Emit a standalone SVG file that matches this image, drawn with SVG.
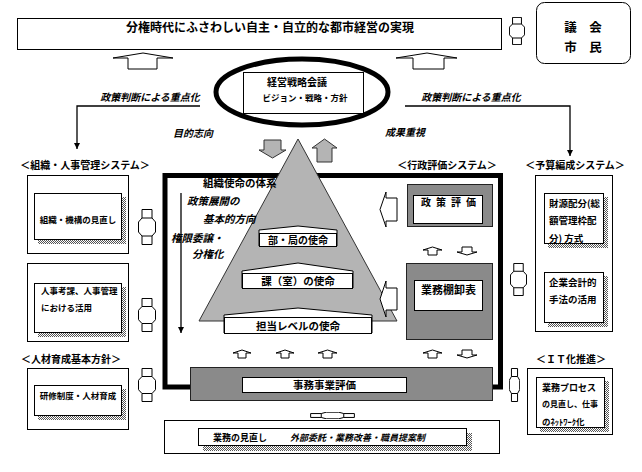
<svg xmlns="http://www.w3.org/2000/svg" width="642" height="472" viewBox="0 0 642 472">
<style>
text{font-family:"Noto Sans CJK JP","Noto Sans CJK SC",sans-serif;fill:#000;font-weight:bold}
.i{font-style:italic}
.m{text-anchor:middle}
.box{fill:#fff;stroke:#000;stroke-width:1}
.gray{fill:#8a8a8a;stroke:#222;stroke-width:1}
.sh{fill:url(#dots)}
.ar{fill:#fff;stroke:#000;stroke-width:1}
.ga{fill:#b4b4b4;stroke:#333;stroke-width:1}
.ln{stroke:#000;stroke-width:1.3;fill:none}
</style>
<defs>
<pattern id="dots" width="2" height="2" patternUnits="userSpaceOnUse"><rect width="2" height="2" fill="#fff"/><rect width="1" height="1" fill="#555"/><rect x="1" y="1" width="1" height="1" fill="#555"/></pattern>
<marker id="ah" viewBox="0 0 10 10" refX="10" refY="5" markerWidth="6" markerHeight="7" markerUnits="userSpaceOnUse" orient="auto"><path d="M0,0 L10,5 L0,10 Z" fill="#000"/></marker>
<symbol id="br" viewBox="0 0 18 36" preserveAspectRatio="none">
<path d="M4,0.5 H14 V9 L17.5,13 V23 L14,27 V35.5 H4 V27 L0.5,23 V13 L4,9 Z" fill="#fff" stroke="#000" stroke-width="1" vector-effect="non-scaling-stroke"/>
<path d="M4,9 H14 M4,27 H14" fill="none" stroke="#000" stroke-width="1" vector-effect="non-scaling-stroke"/>
</symbol>
</defs>
<rect width="642" height="472" fill="#fff"/>

<g id="banner">
<rect class="box" x="17.5" y="18.5" width="484" height="31"/>
<text class="m" x="270" y="32" font-size="12">分権時代にふさわしい自主・自立的な都市経営の実現</text>
</g>

<g id="council">
<rect class="box" x="536.5" y="2.5" width="94" height="61" rx="8"/>
<text class="m" x="583" y="32" font-size="12.5">議　会</text>
<text class="m" x="583" y="52" font-size="12.5">市　民</text>
</g>

<g id="strategy">
<ellipse cx="302" cy="92" rx="86" ry="33" fill="#fff" stroke="#000" stroke-width="5"/>
<rect class="box" x="243.5" y="72.5" width="120" height="41"/>
<text class="m" x="297" y="86" font-size="10">経営戦略会議</text>
<text class="m" x="305" y="101" font-size="8.5">ビジョン・戦略・方針</text>
</g>

<g id="labels">
<text class="i m" x="150" y="101" font-size="10" font-weight="normal">政策判断による重点化</text>
<text class="i m" x="471" y="101" font-size="10" font-weight="normal">政策判断による重点化</text>
<text class="i m" x="193" y="137" font-size="10">目的志向</text>
<text class="i m" x="405" y="136" font-size="10">成果重視</text>
</g>

<g id="frame">
<rect x="165" y="175.5" width="335.5" height="211.5" fill="none" stroke="#000" stroke-width="5"/>
</g>

<g id="pyramid">
<polygon class="ga" points="298,139 397,321 199,321"/>
<polygon class="box" points="259,246 259,230 298,226 337,230 337,246"/>
<rect class="box" x="259.5" y="233.5" width="77" height="13"/>
<text class="m" x="298" y="244" font-size="10">部・局の使命</text>
<polygon class="box" points="242,288 242,271 298,263 353,271 353,288"/>
<rect class="box" x="242.5" y="273.5" width="110" height="15"/>
<text class="m" x="298" y="285" font-size="10.5">課（室）の使命</text>
<polygon class="box" points="224,333 224,315 298,308 372,315 372,333"/>
<rect class="box" x="224.5" y="317.5" width="147" height="16"/>
<text class="m" x="298" y="329.5" font-size="10.5">担当レベルの使命</text>
</g>

<g id="mission-text">
<text x="203" y="187" font-size="10.5">組織使命の体系</text>
<text class="i" x="187" y="205" font-size="10.5" font-weight="normal">政策展開の</text>
<text class="i" x="203" y="223" font-size="10.5" font-weight="normal">基本的方向</text>
<text class="i" x="171" y="242" font-size="10.5" font-weight="normal">権限委譲・</text>
<text class="i" x="192" y="258" font-size="10.5" font-weight="normal">分権化</text>
</g>

<g id="policy-eval">
<rect class="gray" x="407.5" y="184.5" width="85" height="42"/>
<rect class="box" x="413.5" y="195.5" width="69" height="28"/>
<text class="m" x="451" y="206" font-size="10" letter-spacing="5">政策評価</text>
</g>

<g id="inventory">
<rect class="gray" x="406.5" y="263.5" width="86" height="76"/>
<rect class="box" x="414.5" y="280.5" width="68" height="30"/>
<text class="m" x="448.5" y="293.5" font-size="11">業務棚卸表</text>
</g>

<g id="jimu">
<rect class="gray" x="190.5" y="367.5" width="302" height="33"/>
<rect class="box" x="242.5" y="377.5" width="164" height="15"/>
<text class="m" x="324.5" y="389" font-size="10.5">事務事業評価</text>
</g>

<g id="review">
<rect class="box" x="164.5" y="420.5" width="335" height="33"/>
<rect class="sh" x="203" y="433" width="269" height="18"/>
<rect class="box" x="198.5" y="428.5" width="268" height="17"/>
<text x="213" y="441" font-size="9">業務の見直し</text>
<text class="i" x="290" y="441" font-size="9">外部委託・業務改善・職員提案制</text>
</g>

<g id="org-system">
<text class="m" x="85" y="168.5" font-size="10">＜組織・人事管理システム＞</text>
<rect class="box" x="27.5" y="175.5" width="101" height="78"/>
<rect class="sh" x="38" y="197" width="88" height="47"/>
<rect class="box" x="34.5" y="193.5" width="87" height="46"/>
<text class="m" x="78" y="223" font-size="8.5">組織・機構の見直し</text>
<rect class="box" x="27.5" y="263.5" width="101" height="78"/>
<rect class="sh" x="38" y="287" width="88" height="50"/>
<rect class="box" x="34.5" y="283.5" width="87" height="49"/>
<text x="41" y="294" font-size="8.5">人事考課、人事管理</text>
<text x="41" y="311" font-size="8.5">における活用</text>
</g>

<g id="hr-policy">
<text class="m" x="71" y="362.5" font-size="10">＜人材育成基本方針＞</text>
<rect class="box" x="27.5" y="368.5" width="101" height="61"/>
<rect class="sh" x="38" y="389" width="88" height="31"/>
<rect class="box" x="34.5" y="385.5" width="87" height="30"/>
<text class="m" x="78" y="398.5" font-size="8.5">研修制度・人材育成</text>
</g>

<g id="budget-system">
<text class="m" x="447" y="168.5" font-size="10">＜行政評価システム＞</text>
<text class="m" x="575" y="168.5" font-size="10">＜予算編成システム＞</text>
<rect class="box" x="535.5" y="175.5" width="77" height="156"/>
<rect class="sh" x="548" y="197" width="60" height="51"/>
<rect class="box" x="544.5" y="193.5" width="59" height="50"/>
<text x="549" y="207" font-size="9.5">財源配分(総</text>
<text x="549" y="224" font-size="9.5">額管理枠配</text>
<text x="549" y="241.5" font-size="9.5">分) 方式</text>
<rect class="sh" x="548" y="276" width="60" height="51"/>
<rect class="box" x="544.5" y="272.5" width="59" height="50"/>
<text x="549" y="286" font-size="9.5">企業会計的</text>
<text x="549" y="303" font-size="9.5">手法の活用</text>
</g>

<g id="it-system">
<text class="m" x="571" y="362.5" font-size="10">＜ＩＴ化推進＞</text>
<rect class="box" x="527.5" y="368.5" width="85" height="66"/>
<rect class="sh" x="540" y="381" width="69" height="51"/>
<rect class="box" x="536.5" y="377.5" width="68" height="50"/>
<text x="542" y="391" font-size="9">業務プロセス</text>
<text x="542" y="407" font-size="8">の見直し、仕事</text>
<text x="542" y="425" font-size="8.5">のﾈｯﾄﾜｰｸ化</text>
</g>

<g id="connectors">
<path class="ln" d="M200,106 H77 V149" marker-end="url(#ah)"/>
<path class="ln" d="M405,106 H570 V156" marker-end="url(#ah)"/>
<path class="ln" d="M181,193 V333" marker-end="url(#ah)"/>
<polygon class="ar" points="128,69 128,58 113,58 143,53 173,58 157,58 157,69"/>
<polygon class="ar" points="413,69 413,58 396,58 427,53 457,58 444,58 444,69"/>
<polygon class="ga" points="264,140 281,140 281,150 286,150 272.5,158 259,150 264,150"/>
<polygon class="ga" points="317,162 317,148 312,148 324.5,139 337,148 332,148 332,162"/>
<polygon class="ar" points="397,198 386,198 386,192 380,209.5 386,227 386,221 397,221"/>
<polygon class="ar" points="397,288 386,288 386,281 380,299 386,317 386,310 397,310"/>
<polygon class="ar" points="428,255 428,250 423,250 432.5,247 442,250 437,250 437,255"/>
<polygon class="ar" points="462,247 462,252 457,252 467,255 477,252 472,252 472,247"/>
<polygon class="ar" points="428,358 428,353 423,353 432.5,350 442,353 437,353 437,358"/>
<polygon class="ar" points="462,350 462,355 457,355 467,358 477,355 472,355 472,350"/>
<polygon class="ar" points="238,358 238,353 233,353 242,350 251,353 246,353 246,358"/>
<polygon class="ar" points="281,358 281,353 276,353 285,350 294,353 289,353 289,358"/>
<polygon class="ar" points="323,358 323,353 318,353 327.5,350 337,353 332,353 332,358"/>
<use href="#br" x="509" y="17" width="16" height="28"/>
<use href="#br" x="138" y="209" width="18" height="36"/>
<use href="#br" x="138" y="298" width="18" height="34"/>
<use href="#br" x="138" y="368" width="18" height="34"/>
<use href="#br" x="510" y="263" width="17" height="33"/>
<use href="#br" x="509" y="368" width="11" height="34"/>
<use href="#br" transform="translate(355,412) rotate(90)" width="7" height="45"/>
</g>
</svg>
